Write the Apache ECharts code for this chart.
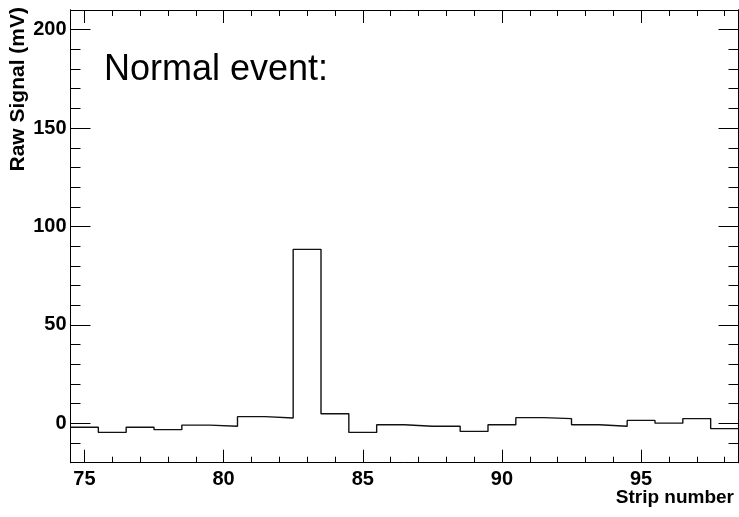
<!DOCTYPE html>
<html>
<head>
<meta charset="utf-8">
<script src="https://cdn.jsdelivr.net/npm/echarts@6/dist/echarts.min.js"></script>
<style>
  html, body { margin: 0; padding: 0; background: #fff; }
  #chart { width: 739px; height: 517px; }
</style>
</head>
<body>
<div id="chart"></div>
<script>
// Strip numbers (bin centres) and raw signal per strip, in mV
const strips = [75, 76, 77, 78, 79, 80, 81, 82, 83, 84, 85, 86,
                87, 88, 89, 90, 91, 92, 93, 94, 95, 96, 97, 98];
const signal = [-2.0, -4.6, -2.0, -3.2, -0.9, -1.5, 3.4, 2.7, 88.4, 4.9, -4.6, -0.7,
                -1.5, -1.5, -4.1, -0.7, 2.9, 2.4, -0.7, -1.5, 1.5, 0.1, 2.4, -2.7];

const xMajorTicks = [75, 80, 85, 90, 95];
const xMinorTicks = [75, 76, 77, 78, 79, 80, 81, 82, 83, 84, 85, 86,
                     87, 88, 89, 90, 91, 92, 93, 94, 95, 96, 97, 98];
const yMajorTicks = [0, 50, 100, 150, 200];
const yMinorTicks = [-10, 0, 10, 20, 30, 40, 50, 60, 70, 80, 90, 100,
                     110, 120, 130, 140, 150, 160, 170, 180, 190, 200];

const binWidth = 1;

// Histogram outline: each bin's left edge carries its value; a final point closes the last bin
const outline = strips.map((s, i) => [s - binWidth / 2, signal[i]]);
outline.push([strips[strips.length - 1] + binWidth / 2, signal[signal.length - 1]]);

const chart = echarts.init(document.getElementById('chart'), null, { renderer: 'canvas' });

const lineStyle = { color: '#000', width: 1 };
const X_MIN = 74.5, X_MAX = 98.5, Y_MIN = -20, Y_MAX = 210;
const FONT = 'Liberation Sans, Arial, sans-serif';

function xAxisDef(position, ticks, len, labels) {
  return {
    type: 'value', position: position, min: X_MIN, max: X_MAX,
    axisLine: { show: true, onZero: false, lineStyle: lineStyle },
    splitLine: { show: false },
    axisTick: { show: true, inside: true, length: len, customValues: ticks, lineStyle: lineStyle },
    axisLabel: labels ? {
      show: true, customValues: ticks, margin: 7,
      fontFamily: FONT, fontWeight: 'bold', fontSize: 20, color: '#000'
    } : { show: false }
  };
}
function yAxisDef(position, ticks, len, labels) {
  return {
    type: 'value', position: position, min: Y_MIN, max: Y_MAX,
    axisLine: { show: true, onZero: false, lineStyle: lineStyle },
    splitLine: { show: false },
    axisTick: { show: true, inside: true, length: len, customValues: ticks, lineStyle: lineStyle },
    axisLabel: labels ? {
      show: true, customValues: ticks, margin: 4,
      fontFamily: FONT, fontWeight: 'bold', fontSize: 20, color: '#000'
    } : { show: false }
  };
}

chart.setOption({
  animation: false,
  backgroundColor: '#fff',
  grid: { left: 70.5, right: 0.5, top: 10, bottom: 54.3, containLabel: false },
  xAxis: [
    xAxisDef('bottom', xMajorTicks, 13, true),
    xAxisDef('bottom', xMinorTicks, 6, false),
    xAxisDef('top', xMajorTicks, 13, false),
    xAxisDef('top', xMinorTicks, 6, false)
  ],
  yAxis: [
    yAxisDef('left', yMajorTicks, 20, true),
    yAxisDef('left', yMinorTicks, 10, false),
    yAxisDef('right', yMajorTicks, 20, false),
    yAxisDef('right', yMinorTicks, 10, false)
  ],
  series: [{
    type: 'line',
    xAxisIndex: 0, yAxisIndex: 0,
    step: 'end',
    data: outline,
    showSymbol: false,
    symbol: 'none',
    lineStyle: { color: '#111', width: 1.4 },
    silent: true
  }],
  graphic: [
    {
      type: 'text', left: 104, top: 52,
      style: { text: 'Normal event:', fontFamily: FONT, fontSize: 36, fill: '#000' }
    },
    {
      type: 'text', right: 5, top: 488,
      style: { text: 'Strip number', fontFamily: FONT, fontWeight: 'bold', fontSize: 19, fill: '#000' }
    },
    {
      type: 'text', left: 8, top: 7, rotation: Math.PI / 2,
      style: { text: 'Raw Signal (mV)', fontFamily: FONT, fontWeight: 'bold', fontSize: 21,
               letterSpacing: 0.6, fill: '#000', align: 'right', verticalAlign: 'top' }
    }
  ]
});
</script>
</body>
</html>
